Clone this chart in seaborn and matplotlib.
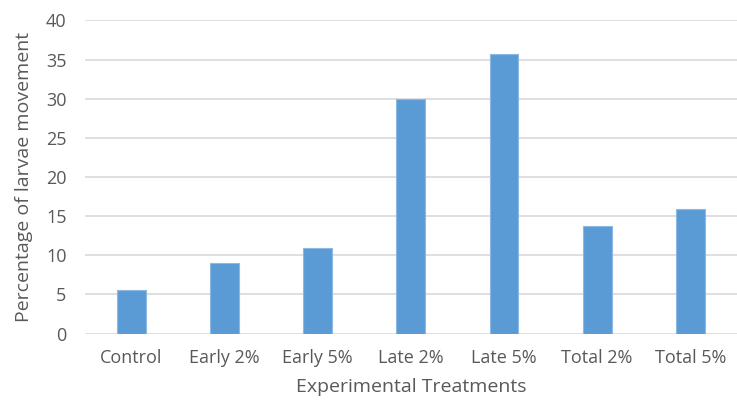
import matplotlib
matplotlib.use("Agg")
import matplotlib.pyplot as plt
import seaborn as sns
import pandas as pd

treatments = ["Control", "Early 2%", "Early 5%", "Late 2%", "Late 5%", "Total 2%", "Total 5%"]
movement = [5.6, 9.0, 10.9, 30.0, 35.7, 13.7, 15.9]
y_ticks = [0, 5, 10, 15, 20, 25, 30, 35, 40]

df = pd.DataFrame({"Treatment": treatments, "Movement": movement})

sns.set_theme(style="white")
plt.rcParams["font.family"] = ["Open Sans", "DejaVu Sans"]

text_color = "#595959"
grid_color = "#D9D9D9"
bar_color = "#5B9BD5"

fig = plt.figure(figsize=(7.37, 4.01), dpi=100)
ax = fig.add_axes([0.1147, 0.168, 0.8853, 0.781])

sns.barplot(data=df, x="Treatment", y="Movement", color=bar_color,
            saturation=1, width=0.31, edgecolor="#8DB8E2", linewidth=0.8,
            ax=ax, zorder=3)

ax.set_ylim(0, 40)
ax.set_yticks(y_ticks)
ax.set_xlim(-0.5, len(treatments) - 0.5)
ax.yaxis.grid(True, color=grid_color, linewidth=1.2, zorder=0)
ax.set_axisbelow(True)
for side in ["top", "right", "left", "bottom"]:
    ax.spines[side].set_visible(False)

ax.tick_params(axis="both", length=0, labelsize=13, labelcolor=text_color)
ax.tick_params(axis="x", pad=11)
ax.tick_params(axis="y", pad=13)

ax.set_xlabel("Experimental Treatments", fontsize=14, color=text_color, labelpad=8)
ax.set_ylabel("Percentage of larvae movement", fontsize=14, color=text_color, labelpad=9)

fig.savefig("out.png", dpi=100, facecolor="white")
